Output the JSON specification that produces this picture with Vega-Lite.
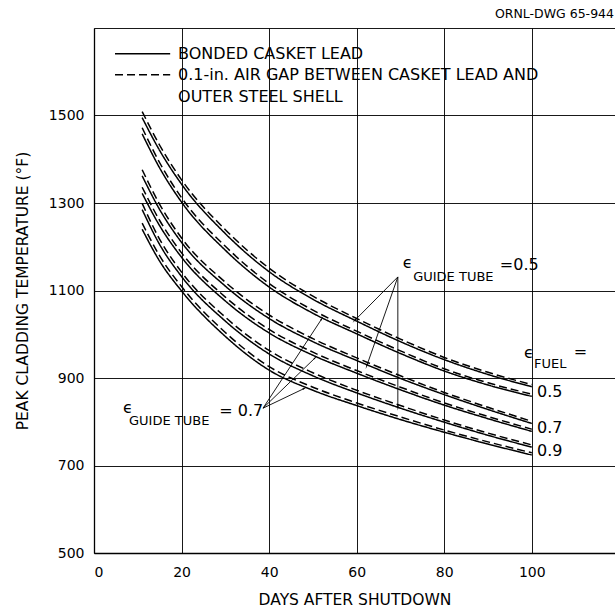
{
  "$schema": "https://vega.github.io/schema/vega-lite/v6.json",
  "width": 521,
  "height": 525,
  "autosize": {"type": "none"},
  "padding": {"left": 94, "top": 28, "right": 0, "bottom": 55},
  "background": "white",
  "title": {"text": "ORNL-DWG 65-944", "anchor": "end", "frame": "group", "fontSize": 12.5, "font": "DejaVu Sans", "fontWeight": "normal", "color": "black", "offset": 8, "dx": -1},
  "config": {
    "view": {"stroke": null},
    "font": "DejaVu Sans",
    "axis": {"domainColor": "black", "domainWidth": 1.3, "gridColor": "black", "gridWidth": 1, "gridOpacity": 0.9, "ticks": false, "labelColor": "black", "titleColor": "black", "labelFont": "DejaVu Sans", "titleFont": "DejaVu Sans", "labelFontSize": 14, "titleFontSize": 15.5, "titleFontWeight": "normal"}
  },
  "datasets": {
    "curves": [
      {"series": "A", "lead": "bonded", "day": 11, "temp": 1495}, {"series": "A", "lead": "bonded", "day": 15, "temp": 1420}, {"series": "A", "lead": "bonded", "day": 20, "temp": 1343}, {"series": "A", "lead": "bonded", "day": 30, "temp": 1230}, {"series": "A", "lead": "bonded", "day": 40, "temp": 1143}, {"series": "A", "lead": "bonded", "day": 50, "temp": 1080}, {"series": "A", "lead": "bonded", "day": 60, "temp": 1030}, {"series": "A", "lead": "bonded", "day": 70, "temp": 983}, {"series": "A", "lead": "bonded", "day": 80, "temp": 942}, {"series": "A", "lead": "bonded", "day": 90, "temp": 908}, {"series": "A", "lead": "bonded", "day": 100, "temp": 880},
      {"series": "A", "lead": "airgap", "day": 11, "temp": 1509}, {"series": "A", "lead": "airgap", "day": 15, "temp": 1432}, {"series": "A", "lead": "airgap", "day": 20, "temp": 1353}, {"series": "A", "lead": "airgap", "day": 30, "temp": 1239}, {"series": "A", "lead": "airgap", "day": 40, "temp": 1151}, {"series": "A", "lead": "airgap", "day": 50, "temp": 1087}, {"series": "A", "lead": "airgap", "day": 60, "temp": 1036}, {"series": "A", "lead": "airgap", "day": 70, "temp": 989}, {"series": "A", "lead": "airgap", "day": 80, "temp": 947}, {"series": "A", "lead": "airgap", "day": 90, "temp": 913}, {"series": "A", "lead": "airgap", "day": 100, "temp": 885},
      {"series": "B", "lead": "bonded", "day": 11, "temp": 1458}, {"series": "B", "lead": "bonded", "day": 15, "temp": 1380}, {"series": "B", "lead": "bonded", "day": 20, "temp": 1302}, {"series": "B", "lead": "bonded", "day": 30, "temp": 1192}, {"series": "B", "lead": "bonded", "day": 40, "temp": 1108}, {"series": "B", "lead": "bonded", "day": 50, "temp": 1048}, {"series": "B", "lead": "bonded", "day": 60, "temp": 1001}, {"series": "B", "lead": "bonded", "day": 70, "temp": 956}, {"series": "B", "lead": "bonded", "day": 80, "temp": 916}, {"series": "B", "lead": "bonded", "day": 90, "temp": 884}, {"series": "B", "lead": "bonded", "day": 100, "temp": 858},
      {"series": "B", "lead": "airgap", "day": 11, "temp": 1472}, {"series": "B", "lead": "airgap", "day": 15, "temp": 1392}, {"series": "B", "lead": "airgap", "day": 20, "temp": 1312}, {"series": "B", "lead": "airgap", "day": 30, "temp": 1201}, {"series": "B", "lead": "airgap", "day": 40, "temp": 1116}, {"series": "B", "lead": "airgap", "day": 50, "temp": 1055}, {"series": "B", "lead": "airgap", "day": 60, "temp": 1007}, {"series": "B", "lead": "airgap", "day": 70, "temp": 962}, {"series": "B", "lead": "airgap", "day": 80, "temp": 921}, {"series": "B", "lead": "airgap", "day": 90, "temp": 889}, {"series": "B", "lead": "airgap", "day": 100, "temp": 863},
      {"series": "C", "lead": "bonded", "day": 11, "temp": 1362}, {"series": "C", "lead": "bonded", "day": 15, "temp": 1285}, {"series": "C", "lead": "bonded", "day": 20, "temp": 1210}, {"series": "C", "lead": "bonded", "day": 30, "temp": 1110}, {"series": "C", "lead": "bonded", "day": 40, "temp": 1036}, {"series": "C", "lead": "bonded", "day": 50, "temp": 983}, {"series": "C", "lead": "bonded", "day": 60, "temp": 940}, {"series": "C", "lead": "bonded", "day": 70, "temp": 899}, {"series": "C", "lead": "bonded", "day": 80, "temp": 862}, {"series": "C", "lead": "bonded", "day": 90, "temp": 828}, {"series": "C", "lead": "bonded", "day": 100, "temp": 796},
      {"series": "C", "lead": "airgap", "day": 11, "temp": 1376}, {"series": "C", "lead": "airgap", "day": 15, "temp": 1297}, {"series": "C", "lead": "airgap", "day": 20, "temp": 1220}, {"series": "C", "lead": "airgap", "day": 30, "temp": 1119}, {"series": "C", "lead": "airgap", "day": 40, "temp": 1044}, {"series": "C", "lead": "airgap", "day": 50, "temp": 990}, {"series": "C", "lead": "airgap", "day": 60, "temp": 946}, {"series": "C", "lead": "airgap", "day": 70, "temp": 905}, {"series": "C", "lead": "airgap", "day": 80, "temp": 867}, {"series": "C", "lead": "airgap", "day": 90, "temp": 833}, {"series": "C", "lead": "airgap", "day": 100, "temp": 801},
      {"series": "D", "lead": "bonded", "day": 11, "temp": 1322}, {"series": "D", "lead": "bonded", "day": 15, "temp": 1248}, {"series": "D", "lead": "bonded", "day": 20, "temp": 1176}, {"series": "D", "lead": "bonded", "day": 30, "temp": 1076}, {"series": "D", "lead": "bonded", "day": 40, "temp": 1003}, {"series": "D", "lead": "bonded", "day": 50, "temp": 952}, {"series": "D", "lead": "bonded", "day": 60, "temp": 911}, {"series": "D", "lead": "bonded", "day": 70, "temp": 873}, {"series": "D", "lead": "bonded", "day": 80, "temp": 838}, {"series": "D", "lead": "bonded", "day": 90, "temp": 807}, {"series": "D", "lead": "bonded", "day": 100, "temp": 778},
      {"series": "D", "lead": "airgap", "day": 11, "temp": 1336}, {"series": "D", "lead": "airgap", "day": 15, "temp": 1260}, {"series": "D", "lead": "airgap", "day": 20, "temp": 1186}, {"series": "D", "lead": "airgap", "day": 30, "temp": 1085}, {"series": "D", "lead": "airgap", "day": 40, "temp": 1011}, {"series": "D", "lead": "airgap", "day": 50, "temp": 959}, {"series": "D", "lead": "airgap", "day": 60, "temp": 917}, {"series": "D", "lead": "airgap", "day": 70, "temp": 879}, {"series": "D", "lead": "airgap", "day": 80, "temp": 843}, {"series": "D", "lead": "airgap", "day": 90, "temp": 812}, {"series": "D", "lead": "airgap", "day": 100, "temp": 783},
      {"series": "E", "lead": "bonded", "day": 11, "temp": 1285}, {"series": "E", "lead": "bonded", "day": 15, "temp": 1205}, {"series": "E", "lead": "bonded", "day": 20, "temp": 1132}, {"series": "E", "lead": "bonded", "day": 30, "temp": 1030}, {"series": "E", "lead": "bonded", "day": 40, "temp": 955}, {"series": "E", "lead": "bonded", "day": 50, "temp": 905}, {"series": "E", "lead": "bonded", "day": 60, "temp": 866}, {"series": "E", "lead": "bonded", "day": 70, "temp": 831}, {"series": "E", "lead": "bonded", "day": 80, "temp": 799}, {"series": "E", "lead": "bonded", "day": 90, "temp": 769}, {"series": "E", "lead": "bonded", "day": 100, "temp": 742},
      {"series": "E", "lead": "airgap", "day": 11, "temp": 1299}, {"series": "E", "lead": "airgap", "day": 15, "temp": 1217}, {"series": "E", "lead": "airgap", "day": 20, "temp": 1142}, {"series": "E", "lead": "airgap", "day": 30, "temp": 1039}, {"series": "E", "lead": "airgap", "day": 40, "temp": 963}, {"series": "E", "lead": "airgap", "day": 50, "temp": 912}, {"series": "E", "lead": "airgap", "day": 60, "temp": 872}, {"series": "E", "lead": "airgap", "day": 70, "temp": 837}, {"series": "E", "lead": "airgap", "day": 80, "temp": 804}, {"series": "E", "lead": "airgap", "day": 90, "temp": 774}, {"series": "E", "lead": "airgap", "day": 100, "temp": 747},
      {"series": "F", "lead": "bonded", "day": 11, "temp": 1240}, {"series": "F", "lead": "bonded", "day": 15, "temp": 1167}, {"series": "F", "lead": "bonded", "day": 20, "temp": 1099}, {"series": "F", "lead": "bonded", "day": 30, "temp": 995}, {"series": "F", "lead": "bonded", "day": 40, "temp": 918}, {"series": "F", "lead": "bonded", "day": 50, "temp": 872}, {"series": "F", "lead": "bonded", "day": 60, "temp": 837}, {"series": "F", "lead": "bonded", "day": 70, "temp": 805}, {"series": "F", "lead": "bonded", "day": 80, "temp": 776}, {"series": "F", "lead": "bonded", "day": 90, "temp": 749}, {"series": "F", "lead": "bonded", "day": 100, "temp": 724},
      {"series": "F", "lead": "airgap", "day": 11, "temp": 1254}, {"series": "F", "lead": "airgap", "day": 15, "temp": 1179}, {"series": "F", "lead": "airgap", "day": 20, "temp": 1109}, {"series": "F", "lead": "airgap", "day": 30, "temp": 1004}, {"series": "F", "lead": "airgap", "day": 40, "temp": 926}, {"series": "F", "lead": "airgap", "day": 50, "temp": 879}, {"series": "F", "lead": "airgap", "day": 60, "temp": 843}, {"series": "F", "lead": "airgap", "day": 70, "temp": 811}, {"series": "F", "lead": "airgap", "day": 80, "temp": 781}, {"series": "F", "lead": "airgap", "day": 90, "temp": 754}, {"series": "F", "lead": "airgap", "day": 100, "temp": 729}
    ],
    "arrows": [
      {"id": "a1", "day": 69.4, "temp": 1131, "day2": 59.6, "temp2": 1032},
      {"id": "a2", "day": 69.4, "temp": 1131, "day2": 62.3, "temp2": 928},
      {"id": "a3", "day": 69.4, "temp": 1131, "day2": 69.4, "temp2": 833},
      {"id": "b1", "day": 38.6, "temp": 831, "day2": 52, "temp2": 1035},
      {"id": "b2", "day": 38.6, "temp": 831, "day2": 50.5, "temp2": 946},
      {"id": "b3", "day": 38.6, "temp": 831, "day2": 48, "temp2": 876}
    ],
    "legendLines": [
      {"lead": "bonded", "day": 4.8, "day2": 17.4, "temp": 1641},
      {"lead": "airgap", "day": 4.8, "day2": 17.4, "temp": 1593}
    ],
    "legendText": [
      {"day": 19.2, "temp": 1641, "text": "BONDED CASKET LEAD"},
      {"day": 19.2, "temp": 1593, "text": "0.1-in. AIR GAP BETWEEN CASKET LEAD AND"},
      {"day": 19.2, "temp": 1543, "text": "OUTER STEEL SHELL"}
    ],
    "bigText": [
      {"day": 70.5, "temp": 1162, "text": "ϵ"},
      {"day": 92.7, "temp": 1158, "text": "=0.5"},
      {"day": 6.6, "temp": 831, "text": "ϵ"},
      {"day": 28.6, "temp": 825, "text": "= 0.7"},
      {"day": 98.2, "temp": 957, "text": "ϵ"},
      {"day": 109.6, "temp": 959, "text": "="},
      {"day": 101.2, "temp": 868, "text": "0.5"},
      {"day": 101.2, "temp": 786, "text": "0.7"},
      {"day": 101.2, "temp": 733, "text": "0.9"}
    ],
    "subText": [
      {"day": 72.9, "temp": 1131, "text": "GUIDE TUBE"},
      {"day": 8.0, "temp": 802, "text": "GUIDE TUBE"},
      {"day": 100.5, "temp": 932, "text": "FUEL"}
    ]
  },
  "layer": [
    {
      "data": {"name": "curves"},
      "mark": {"type": "line", "interpolate": "monotone", "strokeWidth": 1.5, "color": "black"},
      "encoding": {
        "x": {"field": "day", "type": "quantitative", "scale": {"domain": [0, 119], "nice": false}, "axis": {"values": [0, 20, 40, 60, 80, 100], "title": "DAYS AFTER SHUTDOWN", "labelPadding": 12, "titlePadding": 13, "grid": true}},
        "y": {"field": "temp", "type": "quantitative", "scale": {"domain": [500, 1700], "nice": false}, "axis": {"values": [500, 700, 900, 1100, 1300, 1500, 1700], "format": "d", "labelExpr": "datum.value == 1700 ? '' : datum.label", "title": "PEAK CLADDING TEMPERATURE (°F)", "labelPadding": 10, "titlePadding": 18, "grid": true}},
        "detail": {"field": "series"},
        "strokeDash": {"field": "lead", "type": "nominal", "scale": {"domain": ["bonded", "airgap"], "range": [[1, 0], [8, 4]]}, "legend": null}
      }
    },
    {
      "data": {"name": "legendLines"},
      "mark": {"type": "rule", "strokeWidth": 1.5, "color": "black"},
      "encoding": {
        "x": {"field": "day", "type": "quantitative"},
        "x2": {"field": "day2"},
        "y": {"field": "temp", "type": "quantitative"},
        "strokeDash": {"field": "lead", "type": "nominal", "scale": {"domain": ["bonded", "airgap"], "range": [[1, 0], [10, 5]]}, "legend": null}
      }
    },
    {
      "data": {"name": "arrows"},
      "mark": {"type": "rule", "strokeWidth": 0.9, "color": "black"},
      "encoding": {
        "x": {"field": "day", "type": "quantitative"},
        "x2": {"field": "day2"},
        "y": {"field": "temp", "type": "quantitative"},
        "y2": {"field": "temp2"}
      }
    },
    {"data": {"name": "arrows"}, "transform": [{"filter": "datum.id == 'a1'"}], "mark": {"type": "point", "shape": "wedge", "filled": true, "color": "black", "size": 35, "angle": 225, "opacity": 1}, "encoding": {"x": {"field": "day2", "type": "quantitative"}, "y": {"field": "temp2", "type": "quantitative"}}},
    {"data": {"name": "arrows"}, "transform": [{"filter": "datum.id == 'a2'"}], "mark": {"type": "point", "shape": "wedge", "filled": true, "color": "black", "size": 35, "angle": 199, "opacity": 1}, "encoding": {"x": {"field": "day2", "type": "quantitative"}, "y": {"field": "temp2", "type": "quantitative"}}},
    {"data": {"name": "arrows"}, "transform": [{"filter": "datum.id == 'a3'"}], "mark": {"type": "point", "shape": "wedge", "filled": true, "color": "black", "size": 35, "angle": 180, "opacity": 1}, "encoding": {"x": {"field": "day2", "type": "quantitative"}, "y": {"field": "temp2", "type": "quantitative"}}},
    {"data": {"name": "arrows"}, "transform": [{"filter": "datum.id == 'b1'"}], "mark": {"type": "point", "shape": "wedge", "filled": true, "color": "black", "size": 35, "angle": 33, "opacity": 1}, "encoding": {"x": {"field": "day2", "type": "quantitative"}, "y": {"field": "temp2", "type": "quantitative"}}},
    {"data": {"name": "arrows"}, "transform": [{"filter": "datum.id == 'b2'"}], "mark": {"type": "point", "shape": "wedge", "filled": true, "color": "black", "size": 35, "angle": 46, "opacity": 1}, "encoding": {"x": {"field": "day2", "type": "quantitative"}, "y": {"field": "temp2", "type": "quantitative"}}},
    {"data": {"name": "arrows"}, "transform": [{"filter": "datum.id == 'b3'"}], "mark": {"type": "point", "shape": "wedge", "filled": true, "color": "black", "size": 35, "angle": 65, "opacity": 1}, "encoding": {"x": {"field": "day2", "type": "quantitative"}, "y": {"field": "temp2", "type": "quantitative"}}},
    {
      "data": {"name": "legendText"},
      "mark": {"type": "text", "align": "left", "baseline": "middle", "fontSize": 16, "color": "black", "font": "DejaVu Sans"},
      "encoding": {"x": {"field": "day", "type": "quantitative"}, "y": {"field": "temp", "type": "quantitative"}, "text": {"field": "text"}}
    },
    {
      "data": {"name": "bigText"},
      "mark": {"type": "text", "align": "left", "baseline": "middle", "fontSize": 16, "color": "black", "font": "DejaVu Sans"},
      "encoding": {"x": {"field": "day", "type": "quantitative"}, "y": {"field": "temp", "type": "quantitative"}, "text": {"field": "text"}}
    },
    {
      "data": {"name": "subText"},
      "mark": {"type": "text", "align": "left", "baseline": "middle", "fontSize": 13, "color": "black", "font": "DejaVu Sans"},
      "encoding": {"x": {"field": "day", "type": "quantitative"}, "y": {"field": "temp", "type": "quantitative"}, "text": {"field": "text"}}
    }
  ]
}
